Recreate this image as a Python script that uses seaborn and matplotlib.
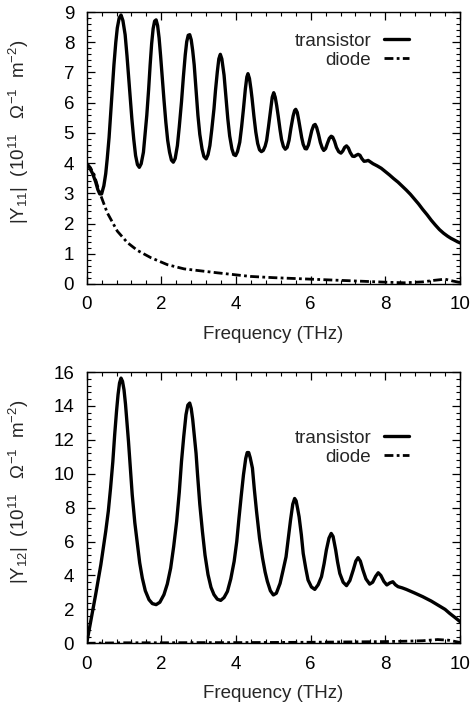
import numpy as np
import pandas as pd
import matplotlib
matplotlib.use("Agg")
import matplotlib.pyplot as plt
import seaborn as sns
from matplotlib.ticker import MultipleLocator

# ---------------- data ----------------
# Panel 1: |Y11|, transistor
f11_tr = [0.00, 0.08, 0.16, 0.24, 0.30, 0.35, 0.40, 0.46, 0.51, 0.55, 0.60, 0.64, 0.69, 0.73,
          0.78, 0.82, 0.87, 0.92, 0.97, 1.03, 1.08, 1.12, 1.17, 1.21, 1.26, 1.31, 1.36, 1.41,
          1.46, 1.52, 1.56, 1.61, 1.66, 1.70, 1.74, 1.78, 1.82, 1.86, 1.90, 1.94, 1.98, 2.02,
          2.07, 2.12, 2.17, 2.22, 2.27, 2.32, 2.37, 2.43, 2.48, 2.54, 2.59, 2.64, 2.68, 2.72,
          2.76, 2.80, 2.84, 2.88, 2.93, 2.98, 3.03, 3.09, 3.14, 3.20, 3.25, 3.30, 3.35, 3.41,
          3.45, 3.50, 3.54, 3.58, 3.62, 3.68, 3.73, 3.78, 3.83, 3.89, 3.94, 3.99, 4.04, 4.10,
          4.15, 4.20, 4.25, 4.29, 4.32, 4.36, 4.40, 4.43, 4.48, 4.53, 4.58, 4.63, 4.68, 4.73,
          4.78, 4.82, 4.87, 4.93, 4.97, 5.01, 5.05, 5.09, 5.13, 5.18, 5.22, 5.27, 5.32, 5.37,
          5.42, 5.47, 5.53, 5.57, 5.60, 5.64, 5.68, 5.72, 5.76, 5.80, 5.85, 5.89, 5.94, 5.98,
          6.03, 6.08, 6.12, 6.16, 6.21, 6.26, 6.31, 6.35, 6.40, 6.45, 6.50, 6.55, 6.59, 6.64,
          6.69, 6.75, 6.81, 6.86, 6.91, 6.96, 7.01, 7.06, 7.12, 7.17, 7.22, 7.27, 7.32, 7.37,
          7.43, 7.49, 7.54, 7.60, 7.67, 7.78, 7.89, 8.00, 8.11, 8.22, 8.34, 8.45, 8.56, 8.67,
          8.78, 8.89, 9.00, 9.12, 9.23, 9.34, 9.45, 9.56, 9.67, 9.76, 9.85, 9.93, 10.0]
y11_tr = [3.95, 3.85, 3.65, 3.38, 3.12, 2.98, 2.98, 3.25, 3.65, 4.14, 4.85, 5.58, 6.45, 7.25,
          8.00, 8.47, 8.80, 8.90, 8.72, 8.25, 7.55, 6.91, 6.10, 5.47, 4.80, 4.25, 3.95, 3.86,
          3.98, 4.36, 4.90, 5.58, 6.45, 7.25, 7.95, 8.45, 8.70, 8.74, 8.55, 8.14, 7.55, 6.91,
          6.10, 5.36, 4.75, 4.36, 4.10, 4.03, 4.15, 4.58, 5.20, 6.03, 6.85, 7.58, 8.02, 8.23,
          8.25, 8.08, 7.72, 7.25, 6.40, 5.58, 4.95, 4.47, 4.22, 4.14, 4.28, 4.58, 5.10, 5.80,
          6.40, 7.03, 7.45, 7.60, 7.45, 6.91, 6.20, 5.47, 4.90, 4.47, 4.28, 4.25, 4.38, 4.69,
          5.20, 5.80, 6.45, 6.85, 6.96, 6.80, 6.45, 6.14, 5.55, 5.03, 4.65, 4.44, 4.38, 4.42,
          4.56, 4.75, 5.20, 5.80, 6.18, 6.33, 6.18, 5.90, 5.56, 5.10, 4.78, 4.55, 4.46, 4.52,
          4.75, 5.15, 5.56, 5.74, 5.78, 5.68, 5.42, 5.12, 4.84, 4.62, 4.48, 4.47, 4.60, 4.82,
          5.08, 5.25, 5.28, 5.18, 4.95, 4.68, 4.50, 4.42, 4.48, 4.66, 4.82, 4.89, 4.86, 4.72,
          4.52, 4.38, 4.33, 4.40, 4.52, 4.57, 4.50, 4.35, 4.23, 4.22, 4.26, 4.29, 4.26, 4.15,
          4.06, 4.07, 4.09, 4.04, 3.98, 3.91, 3.83, 3.72, 3.61, 3.49, 3.37, 3.24, 3.11, 2.97,
          2.81, 2.65, 2.47, 2.29, 2.11, 1.95, 1.80, 1.68, 1.58, 1.51, 1.45, 1.40, 1.36]
# Panel 1: |Y11|, diode
f11_di = [0.00, 0.10, 0.20, 0.30, 0.38, 0.55, 0.82, 1.09, 1.36, 1.72, 2.16, 2.61, 3.50, 4.39,
          5.00, 6.00, 7.00, 8.00, 8.50, 9.00, 9.30, 9.60, 9.80, 10.0]
y11_di = [4.00, 3.85, 3.62, 3.20, 2.92, 2.36, 1.75, 1.37, 1.11, 0.87, 0.64, 0.50, 0.37, 0.25,
          0.21, 0.16, 0.11, 0.06, 0.04, 0.07, 0.12, 0.16, 0.10, 0.05]

# Panel 2: |Y12|, transistor
f12_tr = [0.00, 0.11, 0.24, 0.38, 0.51, 0.58, 0.64, 0.70, 0.75, 0.80, 0.84, 0.88, 0.92, 0.96,
          1.00, 1.04, 1.08, 1.12, 1.17, 1.22, 1.29, 1.36, 1.42, 1.49, 1.57, 1.67, 1.76, 1.86,
          1.96, 2.07, 2.16, 2.25, 2.33, 2.41, 2.48, 2.54, 2.60, 2.66, 2.71, 2.76, 2.80, 2.84,
          2.88, 2.93, 2.97, 3.03, 3.10, 3.17, 3.25, 3.33, 3.41, 3.50, 3.59, 3.68, 3.77, 3.86,
          3.95, 4.02, 4.08, 4.14, 4.20, 4.26, 4.30, 4.34, 4.38, 4.44, 4.49, 4.55, 4.63, 4.71,
          4.78, 4.84, 4.92, 5.00, 5.08, 5.18, 5.26, 5.34, 5.40, 5.46, 5.52, 5.57, 5.61, 5.65,
          5.69, 5.75, 5.80, 5.87, 5.93, 6.02, 6.11, 6.20, 6.29, 6.36, 6.42, 6.49, 6.55, 6.60,
          6.67, 6.72, 6.78, 6.87, 6.96, 7.05, 7.14, 7.21, 7.27, 7.33, 7.40, 7.48, 7.58, 7.66,
          7.74, 7.81, 7.88, 7.96, 8.04, 8.12, 8.20, 8.27, 8.34, 8.45, 8.56, 8.78, 9.00, 9.23,
          9.45, 9.60, 9.72, 9.86, 10.0]
y12_tr = [0.00, 1.30, 2.87, 4.64, 6.60, 7.80, 9.16, 10.70, 12.30, 13.70, 14.66, 15.35, 15.64,
          15.45, 14.95, 14.10, 13.00, 11.90, 10.30, 8.76, 7.10, 5.82, 4.75, 3.85, 3.10, 2.57,
          2.34, 2.28, 2.42, 2.87, 3.50, 4.44, 5.70, 7.19, 8.90, 10.73, 12.20, 13.48, 14.05,
          14.17, 13.85, 13.20, 12.30, 11.20, 9.94, 8.20, 6.60, 5.20, 4.05, 3.30, 2.87, 2.60,
          2.53, 2.70, 3.06, 3.80, 4.83, 6.00, 7.39, 8.70, 9.94, 10.90, 11.25, 11.25, 10.95,
          10.33, 9.10, 7.78, 6.20, 5.03, 4.20, 3.65, 3.10, 2.85, 2.95, 3.53, 4.30, 5.10, 6.20,
          7.26, 8.20, 8.54, 8.40, 7.95, 7.46, 6.40, 5.30, 4.40, 3.73, 3.32, 3.18, 3.45, 3.93,
          4.70, 5.50, 6.20, 6.48, 6.30, 5.50, 4.80, 4.12, 3.60, 3.40, 3.70, 4.32, 4.85, 5.05,
          4.85, 4.32, 3.80, 3.49, 3.60, 3.95, 4.16, 4.00, 3.65, 3.44, 3.56, 3.63, 3.45, 3.34,
          3.27, 3.18, 2.97, 2.75, 2.49, 2.20, 2.00, 1.77, 1.53, 1.28]
# Panel 2: |Y12|, diode
f12_di = [0.0, 1.0, 2.0, 3.0, 4.0, 5.0, 6.0, 7.0, 8.0, 8.5, 9.0, 9.4, 9.7, 10.0]
y12_di = [0.00, 0.03, 0.03, 0.04, 0.04, 0.05, 0.06, 0.08, 0.10, 0.12, 0.15, 0.22, 0.18, 0.05]

series_labels = ["transistor", "diode"]
x_label = "Frequency (THz)"
y_labels = [r"|Y$_{11}$|  (10$^{11}$   $\Omega^{-1}$  m$^{-2}$)",
            r"|Y$_{12}$|  (10$^{11}$   $\Omega^{-1}$  m$^{-2}$)"]

# ---------------- style ----------------
sns.set_style("ticks")
plt.rcParams['font.family'] = ['Liberation Sans', 'DejaVu Sans']
plt.rcParams['mathtext.fontset'] = 'custom'
plt.rcParams['mathtext.rm'] = 'Liberation Sans'
plt.rcParams['mathtext.it'] = 'Liberation Sans:italic'
plt.rcParams['mathtext.bf'] = 'Liberation Sans:bold'
FS = 13.5

fig = plt.figure(figsize=(4.76, 7.15), dpi=100)
ax1 = fig.add_axes([0.1821, 0.6028, 0.7843, 0.3804])
ax2 = fig.add_axes([0.1821, 0.1003, 0.7843, 0.3794])

dash = (0, (3.2, 1.2, 1.0, 1.2))


def draw(ax, ftr, ytr, fdi, ydi, ylab, ymax, ymaj, ymin, leg_anchor):
    df_tr = pd.DataFrame({"f": ftr, "y": ytr})
    df_di = pd.DataFrame({"f": fdi, "y": ydi})
    sns.lineplot(data=df_tr, x="f", y="y", ax=ax, color="black", lw=2.4,
                 label=series_labels[0], legend=False, sort=False)
    sns.lineplot(data=df_di, x="f", y="y", ax=ax, color="black", lw=2.0,
                 label=series_labels[1], legend=False, sort=False)
    ax.lines[-1].set_linestyle(dash)
    for ln in ax.lines:
        ln.set_solid_joinstyle("round")
        ln.set_solid_capstyle("round")
    ax.set_xlim(0, 10)
    ax.set_ylim(0, ymax)
    ax.xaxis.set_major_locator(MultipleLocator(2))
    ax.xaxis.set_minor_locator(MultipleLocator(0.4))
    ax.yaxis.set_major_locator(MultipleLocator(ymaj))
    ax.yaxis.set_minor_locator(MultipleLocator(ymin))
    ax.tick_params(which="both", direction="in", top=True, right=True,
                   labelsize=FS, colors="black")
    ax.tick_params(which="major", length=6, width=0.9)
    ax.tick_params(which="minor", length=3, width=0.8)
    ax.tick_params(axis="x", which="major", pad=9)
    ax.tick_params(axis="y", which="major", pad=9)
    for s in ax.spines.values():
        s.set_linewidth(1.0)
        s.set_color("black")
    ax.set_xlabel(x_label, fontsize=FS, labelpad=9)
    ax.set_ylabel(ylab, fontsize=FS)
    ax.yaxis.set_label_coords(-0.15, 0.56)
    leg = ax.legend(loc="upper right", bbox_to_anchor=leg_anchor, frameon=False,
                    markerfirst=False, fontsize=FS, handlelength=1.3,
                    handletextpad=0.7, labelspacing=0.1, borderpad=0,
                    borderaxespad=0)
    return leg


draw(ax1, f11_tr, y11_tr, f11_di, y11_di, y_labels[0], 9, 1, 0.2, (0.863, 0.925))
draw(ax2, f12_tr, y12_tr, f12_di, y12_di, y_labels[1], 16, 2, 0.4, (0.863, 0.788))

fig.savefig("out.png", dpi=100)
